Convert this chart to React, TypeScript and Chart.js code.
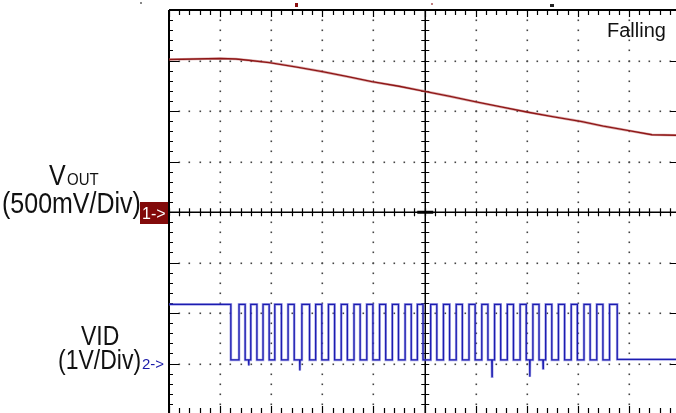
import React, { useEffect, useRef } from "react";
import { Chart, registerables } from "chart.js";

Chart.register(...registerables);

// ---- data (x in time divisions, values in volts) ----
const voutTime = [0, 0.5, 1.0, 1.31, 1.6, 1.96, 2.5, 3.0, 3.5, 3.97, 4.5, 4.95, 5.5, 6.01, 6.5, 7.0, 7.5, 8.08, 8.5, 9.0, 9.45, 9.92];
const voutVolts = [1.51, 1.515, 1.52, 1.515, 1.5, 1.48, 1.435, 1.39, 1.34, 1.29, 1.245, 1.2, 1.145, 1.09, 1.04, 0.99, 0.945, 0.895, 0.85, 0.805, 0.765, 0.76];

const vidHigh = 1.17;
const vidLow = 0.07;
const vidFinalLow = 0.08;
const vidFallTimes = [1.21, 1.49, 1.72, 1.96, 2.2, 2.45, 2.75, 2.99, 3.24, 3.49, 3.74, 3.99, 4.24, 4.49, 4.74, 4.97, 5.24, 5.49, 5.74, 5.99, 6.24, 6.49, 6.74, 6.99, 7.24, 7.49, 7.74, 7.99, 8.24, 8.49, 8.77];
const vidRiseTimes = [1.37, 1.6, 1.84, 2.07, 2.33, 2.6, 2.87, 3.12, 3.37, 3.62, 3.87, 4.12, 4.37, 4.62, 4.86, 5.12, 5.37, 5.62, 5.87, 6.12, 6.37, 6.62, 6.87, 7.12, 7.37, 7.62, 7.87, 8.12, 8.37, 8.62];
const vidSpikeTimes = [1.56, 2.56, 6.32, 7.06, 7.32];
const vidSpikeVolts = [-0.04, -0.14, -0.26, -0.26, -0.1];

const ch1Scale = 0.5; // V/div, ground at div 0
const ch2Scale = 1; // V/div
const ch2Offset = -3; // ground at div -3

const X_MAX = 9.92;
const Y_MIN = -3.98;
const Y_MAX = 4;

const labelVout = "V";
const labelVoutSub = "OUT";
const labelVoutScale = "(500mV/Div)";
const labelVid = "VID";
const labelVidScale = "(1V/Div)";
const labelMode = "Falling";

function buildVout() {
  return voutTime.map((t, i) => ({ x: t, y: voutVolts[i] / ch1Scale }));
}

function buildVid() {
  const pts: { x: number; y: number }[] = [];
  const H = vidHigh / ch2Scale + ch2Offset;
  const L = vidLow / ch2Scale + ch2Offset;
  const LF = vidFinalLow / ch2Scale + ch2Offset;
  pts.push({ x: 0, y: H });
  vidFallTimes.forEach((f, k) => {
    const last = k === vidFallTimes.length - 1;
    pts.push({ x: f, y: H });
    pts.push({ x: f, y: last ? LF : L });
    if (k < vidRiseTimes.length) {
      const r = vidRiseTimes[k];
      pts.push({ x: r, y: L });
      pts.push({ x: r, y: H });
    }
  });
  pts.push({ x: X_MAX, y: LF });
  vidSpikeTimes.forEach((t, i) => {
    const idx = pts.findIndex((p, j) => j < pts.length - 1 && p.x <= t && pts[j + 1].x > t);
    if (idx >= 0) {
      const s = vidSpikeVolts[i] / ch2Scale + ch2Offset;
      pts.splice(idx + 1, 0, { x: t - 0.004, y: L }, { x: t, y: s }, { x: t + 0.004, y: L });
    }
  });
  return pts;
}

const gridPlugin = {
  id: "scopeGrid",
  beforeDatasetsDraw(chart: any) {
    const { ctx, scales } = chart;
    const xs = scales.x;
    const ys = scales.y;
    const px = (v: number) => xs.getPixelForValue(v);
    const py = (v: number) => ys.getPixelForValue(v);
    ctx.save();
    // dotted grid
    ctx.fillStyle = "#444";
    for (let i = 1; i <= 9; i++) {
      if (i === 5) continue;
      const X = Math.round(px(i));
      for (let j = -20; j <= 20; j++) {
        const v = j * 0.2;
        ctx.fillRect(X - 0.5, Math.round(py(v)) - 0.5, 1.6, 1.6);
      }
    }
    for (let i = -3; i <= 3; i++) {
      if (i === 0) continue;
      const Y = Math.round(py(i));
      for (let k = 1; k < 50; k++) {
        ctx.fillRect(Math.round(px(k * 0.2)) - 0.5, Y - 0.5, 1.6, 1.6);
      }
    }
    ctx.strokeStyle = "#000";
    // center cross
    ctx.lineWidth = 1.5;
    const CX = Math.round(px(5)) + 0.25;
    const CY = Math.round(py(0)) + 0.25;
    ctx.beginPath();
    ctx.moveTo(CX, py(Y_MAX));
    ctx.lineTo(CX, py(-4));
    ctx.moveTo(px(0), CY);
    ctx.lineTo(px(10), CY);
    ctx.stroke();
    ctx.lineWidth = 1.2;
    ctx.beginPath();
    for (let j = -20; j <= 20; j++) {
      const Y = Math.round(py(j * 0.2)) + 0.5;
      ctx.moveTo(CX - 4, Y);
      ctx.lineTo(CX + 4, Y);
    }
    for (let k = 0; k <= 50; k++) {
      const X = Math.round(px(k * 0.2)) + 0.5;
      ctx.moveTo(X, CY - 4);
      ctx.lineTo(X, CY + 4);
    }
    ctx.stroke();
    ctx.fillStyle = "#000";
    ctx.fillRect(CX - 8, CY - 1.5, 16, 3);
    // border
    ctx.lineWidth = 2;
    const L = px(0);
    const T = py(Y_MAX);
    const R = px(10);
    const B = py(-4);
    ctx.beginPath();
    ctx.moveTo(L, T);
    ctx.lineTo(R, T);
    ctx.moveTo(L, T);
    ctx.lineTo(L, B);
    ctx.moveTo(L, B);
    ctx.lineTo(R, B);
    ctx.moveTo(R, T);
    ctx.lineTo(R, B);
    ctx.stroke();
    ctx.lineWidth = 1.2;
    ctx.beginPath();
    for (let j = -20; j <= 20; j++) {
      const Y = Math.round(py(j * 0.2)) + 0.5;
      const len = j % 5 === 0 ? 10 : 4;
      ctx.moveTo(L, Y);
      ctx.lineTo(L + len, Y);
      ctx.moveTo(R, Y);
      ctx.lineTo(R - len, Y);
    }
    for (let k = 0; k <= 50; k++) {
      const X = Math.round(px(k * 0.2)) + 0.5;
      const len = k % 5 === 0 ? 7 : 5;
      ctx.moveTo(X, T);
      ctx.lineTo(X, T + len);
      ctx.moveTo(X, B);
      ctx.lineTo(X, B - len - 1);
    }
    ctx.stroke();
    ctx.restore();
  },
  afterDraw(chart: any) {
    const { ctx } = chart;
    ctx.save();
    ctx.fillStyle = "#111";
    ctx.textBaseline = "alphabetic";
    ctx.textAlign = "left";
    const stretched = (text: string, x: number, y: number, size: number, sy: number) => {
      ctx.save();
      ctx.translate(x, y);
      ctx.scale(1, sy);
      ctx.font = `${size}px "Liberation Sans", Arial, sans-serif`;
      ctx.fillText(text, 0, 0);
      ctx.restore();
    };
    stretched(labelVout, 49, 185, 25, 1.15);
    stretched(labelVoutSub, 67, 185, 15, 1.15);
    stretched(labelVoutScale, 2, 213, 25, 1.15);
    stretched(labelVid, 81, 345, 23, 1.2);
    stretched(labelVidScale, 58, 369, 23, 1.2);
    stretched(labelMode, 607, 37, 20, 1.05);
    // channel markers
    ctx.fillStyle = "#820a0a";
    ctx.fillRect(140, 202, 28, 22);
    ctx.fillStyle = "#fff";
    ctx.font = `16px "Liberation Sans", Arial, sans-serif`;
    ctx.fillText("1->", 142, 219);
    ctx.fillStyle = "#1a1aa8";
    ctx.font = `15px "Liberation Sans", Arial, sans-serif`;
    ctx.fillText("2->", 142, 369);
    // small top markers
    ctx.fillStyle = "#8a1010";
    ctx.fillRect(295, 3, 3, 4);
    ctx.fillStyle = "#222";
    ctx.fillRect(550, 4, 4, 3);
    ctx.fillStyle = "#c08080";
    ctx.fillRect(431, 3, 2, 2);
    ctx.fillStyle = "#888";
    ctx.fillRect(140, 2, 2, 2);
    ctx.restore();
  },
};

export default function App() {
  const ref = useRef<HTMLCanvasElement | null>(null);
  useEffect(() => {
    if (!ref.current) return;
    const vout = buildVout();
    const vid = buildVid();
    const chart = new Chart(ref.current, {
      type: "line",
      data: {
        datasets: [
          { data: vout, borderColor: "#8e1616", borderWidth: 1.3, pointRadius: 0, tension: 0, order: 1 },
          { data: vout, borderColor: "rgba(190,100,100,0.55)", borderWidth: 2.6, pointRadius: 0, tension: 0, order: 2 },
          { data: vid, borderColor: "#1c1cb0", borderWidth: 1.3, pointRadius: 0, tension: 0, order: 1 },
          { data: vid, borderColor: "rgba(100,100,215,0.55)", borderWidth: 2.6, pointRadius: 0, tension: 0, order: 2 },
        ],
      },
      options: {
        animation: false,
        responsive: false,
        devicePixelRatio: 1,
        layout: { padding: { left: 169, top: 10, right: 0, bottom: 0 } },
        plugins: { legend: { display: false }, tooltip: { enabled: false } },
        scales: {
          x: { type: "linear", min: 0, max: X_MAX, display: false },
          y: { type: "linear", min: Y_MIN, max: Y_MAX, display: false },
        },
      },
      plugins: [gridPlugin],
    });
    return () => chart.destroy();
  }, []);
  return (
    <div style={{ position: "fixed", left: 0, top: 0, width: 676, height: 413, background: "#fff" }}>
      <canvas ref={ref} width={676} height={413} />
    </div>
  );
}
